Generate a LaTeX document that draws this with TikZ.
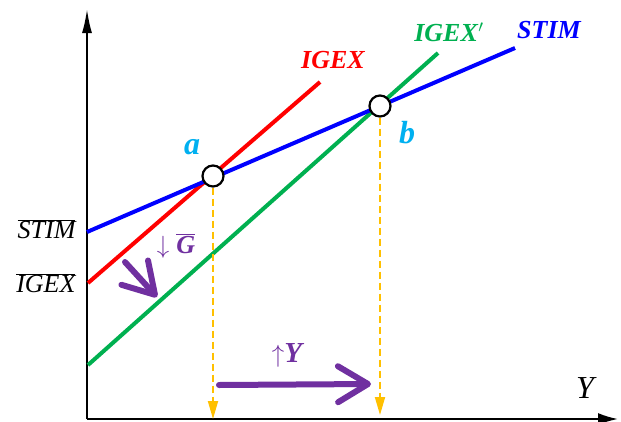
\documentclass[tikz,border=0pt]{standalone}
\usepackage{fontspec}
\newfontfamily\lblfont{Liberation Serif}
\usetikzlibrary{arrows.meta}
\definecolor{cblue}{RGB}{0,0,255}
\definecolor{cred}{RGB}{255,0,0}
\definecolor{cgreen}{RGB}{0,176,80}
\definecolor{cgold}{RGB}{255,192,0}
\definecolor{cpurple}{RGB}{112,48,160}
\definecolor{ccyan}{RGB}{0,176,240}
\newcommand{\bvar}[1]{{\lblfont\bfseries\itshape #1}}
\newcommand{\ivar}[1]{{\lblfont\itshape #1}}
\tikzset{islm/.style={x=1pt,y=-1pt}}
\tikzset{curve/.style={line width=4pt},
         eqpt/.style={circle,draw=black,fill=white,line width=2.2pt,minimum size=21pt,inner sep=0pt},
         drop/.style={cgold,line width=1.8pt,dash pattern=on 7pt off 4pt,-{Triangle[length=18pt,width=10pt]}},
         shiftarrow/.style={cpurple,line width=6pt,line cap=round,-{Straight Barb[length=30pt,width=36pt,round]}},
         big/.style={font=\fontsize{26}{30}\selectfont},
         huge/.style={font=\fontsize{32}{36}\selectfont}}

\begin{document}
\begin{tikzpicture}[islm]
    \useasboundingbox (0,0) rectangle (621,421);
    % axes
    \coordinate (O) at (87,419);
    \draw[line width=2pt,-{Latex[length=24pt,width=10pt]}] (O) -- (87,9);
    \draw[line width=2pt,-{Latex[length=20pt,width=12pt]}] (O) -- (618,419);
    \node[huge] (ylab) at (585,388) {\ivar{Y}};
    % curves
    \draw[curve,cgreen] (88,365) -- (438,53);
    \draw[curve,cred]   (88,283) -- (320,82);
    \draw[curve,cblue]  (87,232) -- (515,48);
    \node[big,cred]   (igex)  at (333,60) {\bvar{IGEX}};
    \node[big,cgreen] (igex2) at (449,32) {\bvar{IGEX\/$'$}};
    \node[big,cblue]  (stim)  at (549,30) {\bvar{STIM}};
    \node[big,anchor=east] (stimbar) at (79,229) {$\overline{\mbox{\ivar{STIM}}}$};
    \node[big,anchor=east] (igexbar) at (79,283) {$\overline{\mbox{\ivar{IGEX}}}$};
    % equilibria
    \node[eqpt] (a) at (213,176) {};
    \node[eqpt] (b) at (380,106) {};
    \node[huge,ccyan] (alab) at (192,147) {\bvar{a}};
    \node[huge,ccyan] (blab) at (407,133) {\bvar{b}};
    \coordinate (ya) at (213,419);
    \coordinate (yb) at (380,415);
    \draw[drop] (a) -- (ya);
    \draw[drop] (b) -- (yb);
    % shifts
    \coordinate (g0) at (125,262);
    \coordinate (g1) at (157,297);
    \draw[shiftarrow] (g0) -- (g1);
    \node[big,cpurple] (glab) at (176,246) {$\downarrow\overline{\mbox{\bvar{G}}}$};
    \coordinate (y0) at (219,385);
    \coordinate (y1) at (371,384);
    \draw[shiftarrow] (y0) -- (y1);
    \node[font=\fontsize{29}{34}\selectfont,cpurple] (ulab) at (287,355) {$\uparrow$\bvar{Y}};
\end{tikzpicture}
\end{document}
